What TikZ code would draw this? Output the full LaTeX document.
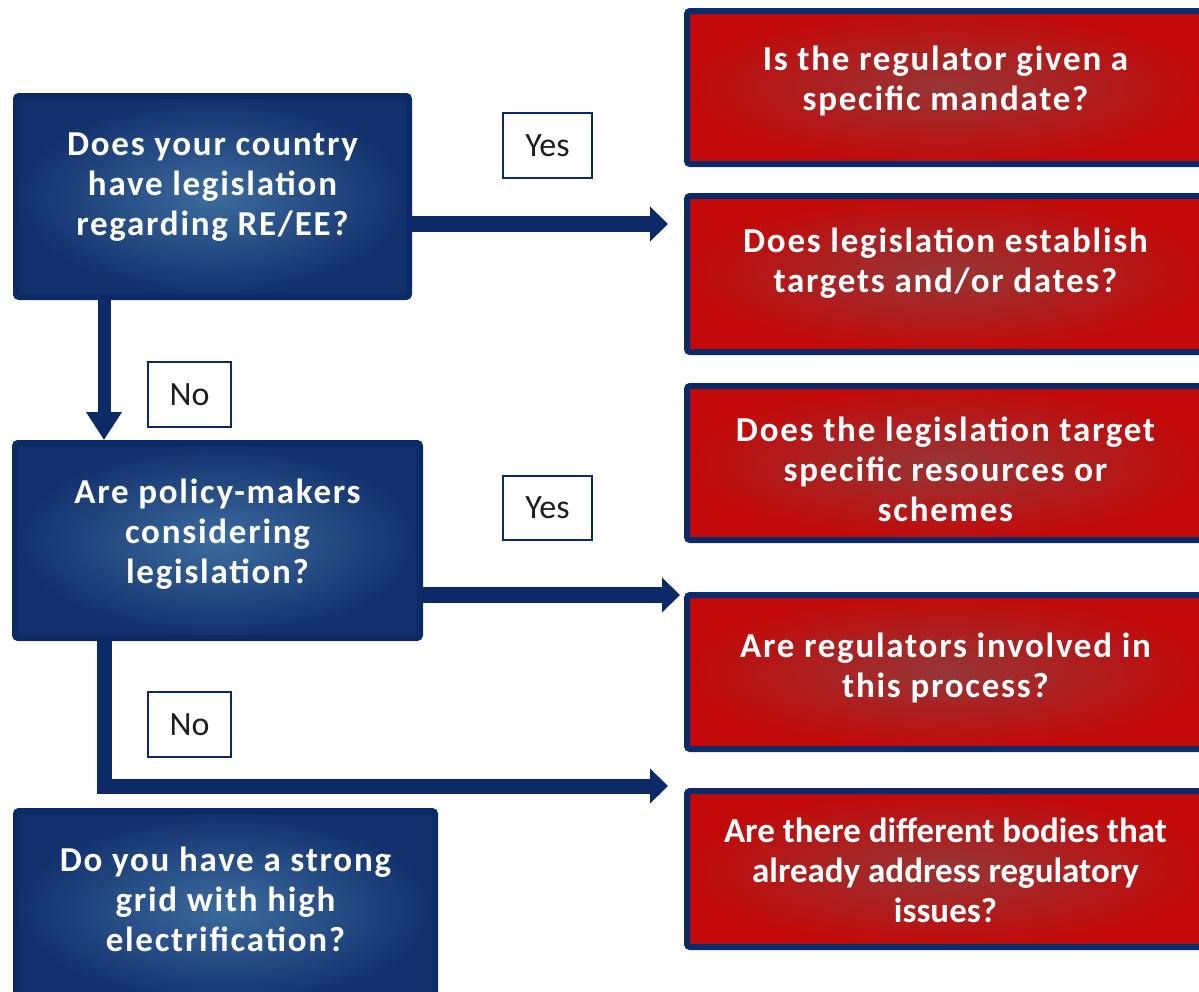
\documentclass[tikz,border=0pt]{standalone}
\usepackage{fontspec}
\setmainfont{Carlito}
\newfontfamily\qfont{Carlito}[LetterSpace=5]
\newfontfamily\qtightfont{Carlito}
\usetikzlibrary{arrows.meta}

\definecolor{navy}{HTML}{0C2A68}
\definecolor{blueedge}{HTML}{12306C}
\definecolor{bluemid}{HTML}{3C6C9E}
\definecolor{rededge}{HTML}{C20A0A}
\definecolor{redmid}{HTML}{963636}
\definecolor{tagtext}{HTML}{1E1E1E}

\tikzset{
  qbox/.style={rounded corners=3pt, draw=navy, line width=6pt, inner sep=0pt},
  bluebox/.style={qbox, inner color=bluemid, outer color=blueedge},
  redbox/.style={qbox, inner color=redmid, outer color=rededge},
  qtext/.style={text=white, align=center, inner sep=0pt,
    font=\qfont\bfseries\fontsize{35}{40}\selectfont},
  qtighttext/.style={qtext, font=\qtightfont\bfseries\fontsize{35}{40}\selectfont},
  tag/.style={draw=navy, line width=2pt, fill=white, text=tagtext, inner sep=0pt,
    minimum width=86pt, minimum height=63pt, font=\fontsize{34}{40}\selectfont},
  flow/.style={draw=navy, line width=16pt, line join=miter,
    -{Triangle[length=18pt,width=34pt]}},
  flowv/.style={flow, line width=13pt, -{Triangle[length=28pt,width=34pt]}},
}

\begin{document}
\begin{tikzpicture}[x=1pt,y=-1pt]
\clip (0,0) rectangle (1199,991);

% question boxes on the left
\node[bluebox, minimum width=393pt, minimum height=201pt] (q1) at (212.5,196.5) {};
\node[bluebox, minimum width=405pt, minimum height=195pt] (q2) at (217.5,540.5) {};
\node[bluebox, minimum width=419pt, minimum height=196pt] (q3) at (225.5,909) {};

\node[qtext] (q1t) at ([yshift=9pt]q1.center) {Does your country\\have legislation\\regarding RE/EE?};
\node[qtext] (q2t) at ([yshift=6pt]q2.center) {Are policy-makers\\considering\\legislation?};
\node[qtext] (q3t) at ([yshift=10pt]q3.center) {Do you have a strong\\grid with high\\electrification?};

% follow-up boxes on the right
\node[redbox, minimum width=517pt, minimum height=153pt] (r1) at (945.5,87.5) {};
\node[redbox, minimum width=517pt, minimum height=156pt] (r2) at (945.5,274) {};
\node[redbox, minimum width=517pt, minimum height=154pt] (r3) at (945.5,463) {};
\node[redbox, minimum width=517pt, minimum height=154pt] (r4) at (945.5,672) {};
\node[redbox, minimum width=517pt, minimum height=156pt] (r5) at (945.5,869) {};

\node[qtext] (r1t) at ([yshift=6.5pt]r1.center) {Is the regulator given a\\specific mandate?};
\node[qtext] (r2t) at ([yshift=11pt]r2.center) {Does legislation establish\\targets and/or dates?};
\node[qtext] (r3t) at ([yshift=-6pt]r3.center) {Does the legislation target\\specific resources or\\schemes};
\node[qtext] (r4t) at ([yshift=4pt]r4.center) {Are regulators involved in\\this process?};
\node[qtighttext] (r5t) at ([yshift=-1pt]r5.center) {Are there different bodies that\\already address regulatory\\issues?};

% answer tags
\node[tag, minimum width=89pt, minimum height=65pt] (yes1) at (547.5,145.5) {Yes};
\node[tag, minimum width=83pt, minimum height=65pt] (no1) at (189.5,394.5) {No};
\node[tag, minimum width=89pt, minimum height=64pt] (yes2) at (547.5,508) {Yes};
\node[tag, minimum width=83pt, minimum height=65pt] (no2) at (189.5,724.5) {No};

% connectors
\coordinate (a1) at (668,224);
\coordinate (a2) at (680,595);
\coordinate (c3) at (104,786);
\coordinate (a3) at (668,786);

\draw[flow] (q1.east |- a1) -- (a1);
\draw[flowv] (q1.south -| c3) -- (q2.north -| c3);
\draw[flow] (q2.east |- a2) -- (a2);
\draw[flow, line width=15pt] (q2.south -| c3) -- (c3) -- (a3);
\end{tikzpicture}
\end{document}
